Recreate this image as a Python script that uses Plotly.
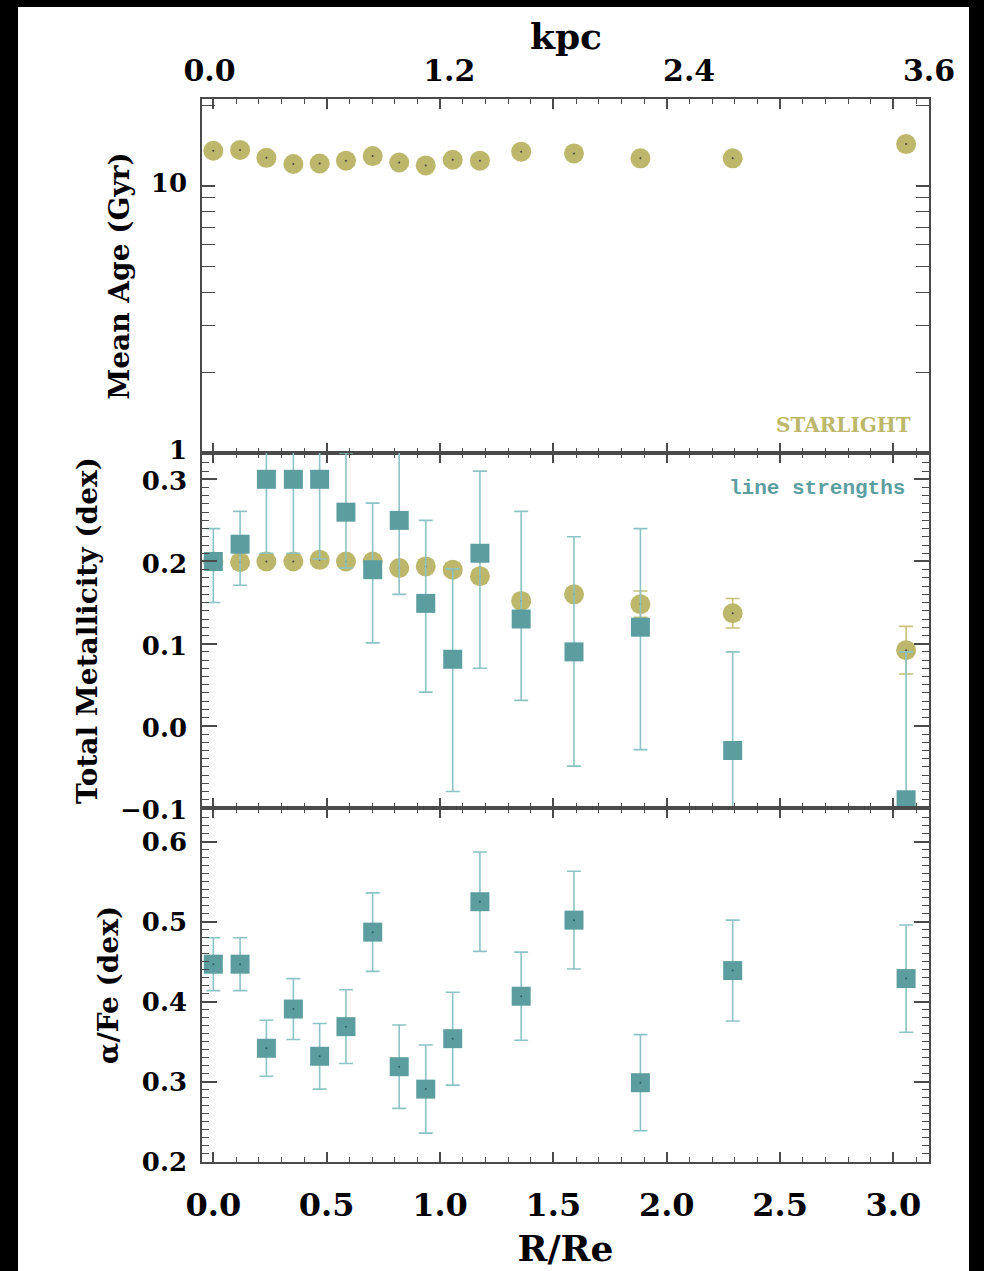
import plotly.graph_objects as go

# Radial bins (R/Re)
r_re = [0.0, 0.118, 0.234, 0.353, 0.469, 0.585, 0.703, 0.820, 0.937, 1.056,
        1.176, 1.358, 1.591, 1.884, 2.291, 3.056]

# STARLIGHT full-spectrum fitting
age_gyr = [13.5, 13.6, 12.7, 12.05, 12.1, 12.4, 12.9, 12.2, 11.9, 12.5,
           12.4, 13.4, 13.2, 12.65, 12.65, 14.3]
z_starlight = [0.200, 0.199, 0.200, 0.200, 0.202, 0.200, 0.200, 0.192, 0.194, 0.190,
               0.182, 0.152, 0.160, 0.148, 0.137, 0.092]
z_starlight_err = [0.008, 0.008, 0.008, 0.008, 0.008, 0.008, 0.008, 0.008, 0.008, 0.008,
                   0.008, 0.008, 0.008, 0.016, 0.018, 0.029]

# Line-strength indices
z_lines = [0.200, 0.221, 0.300, 0.300, 0.300, 0.260, 0.190, 0.250, 0.149, 0.081,
           0.210, 0.130, 0.090, 0.120, -0.030, -0.090]
z_lines_plus = [0.040, 0.040, 0.090, 0.090, 0.097, 0.072, 0.081, 0.090, 0.101, 0.110,
                0.100, 0.131, 0.140, 0.120, 0.120, 0.180]
z_lines_minus = [0.050, 0.050, 0.090, 0.090, 0.097, 0.068, 0.089, 0.090, 0.108, 0.161,
                 0.140, 0.099, 0.139, 0.149, 0.120, 0.180]
alpha_fe = [0.447, 0.447, 0.342, 0.391, 0.332, 0.369, 0.487, 0.319, 0.291, 0.354,
            0.525, 0.407, 0.502, 0.299, 0.439, 0.429]
alpha_fe_err = [0.033, 0.033, 0.035, 0.038, 0.041, 0.046, 0.049, 0.052, 0.055, 0.058,
                0.062, 0.055, 0.061, 0.060, 0.063, 0.067]

# Axis tick labels
rre_ticks = [0.0, 0.5, 1.0, 1.5, 2.0, 2.5, 3.0]
kpc_ticks = [0.0, 1.2, 2.4, 3.6]
age_ticks = [1, 10]
age_minor = [2, 3, 4, 5, 6, 7, 8, 9, 20]

OLIVE = "#bcb76a"
OLIVE_ERR = "#c5c07a"
TEAL = "#5c9e9f"
TEAL_ERR = "#8cc3c4"
AXIS = "#4a4a4a"

W, H = 984, 1271
x0, x1 = 202, 929            # plot area, px
rows = [(99, 453), (453, 808), (808, 1162)]


def py(v):
    return 1 - v / H


fig = go.Figure()

# Top panel: mean age
fig.add_trace(go.Scatter(x=r_re, y=age_gyr, mode="markers", xaxis="x", yaxis="y",
                         marker=dict(symbol="circle", size=20, color=OLIVE)))
fig.add_trace(go.Scatter(x=r_re, y=age_gyr, mode="markers", xaxis="x", yaxis="y",
                         marker=dict(size=2, color="#444")))
# physical-scale axis along the top (no visible marks)
fig.add_trace(go.Scatter(x=kpc_ticks, y=[None] * len(kpc_ticks), mode="markers",
                         xaxis="x4", yaxis="y", hoverinfo="skip"))

# Middle panel: total metallicity
fig.add_trace(go.Scatter(x=r_re, y=z_starlight, mode="markers", xaxis="x2", yaxis="y2",
                         error_y=dict(type="data", array=z_starlight_err, color=OLIVE_ERR,
                                      thickness=1.6, width=7),
                         marker=dict(symbol="circle", size=20, color=OLIVE)))
fig.add_trace(go.Scatter(x=r_re, y=z_starlight, mode="markers", xaxis="x2", yaxis="y2",
                         marker=dict(size=2, color="#444")))
fig.add_trace(go.Scatter(x=r_re, y=z_lines, mode="markers", xaxis="x2", yaxis="y2",
                         error_y=dict(type="data", symmetric=False, array=z_lines_plus,
                                      arrayminus=z_lines_minus, color=TEAL_ERR,
                                      thickness=1.6, width=7),
                         marker=dict(symbol="square", size=19, color=TEAL)))

# Bottom panel: alpha/Fe
fig.add_trace(go.Scatter(x=r_re, y=alpha_fe, mode="markers", xaxis="x3", yaxis="y3",
                         error_y=dict(type="data", array=alpha_fe_err, color=TEAL_ERR,
                                      thickness=1.6, width=7),
                         marker=dict(symbol="square", size=19, color=TEAL)))
fig.add_trace(go.Scatter(x=r_re, y=alpha_fe, mode="markers", xaxis="x3", yaxis="y3",
                         marker=dict(size=2, color="#2f5f60")))

label_font = dict(family="DejaVu Serif", size=26, color="black", weight="bold")
title_font = dict(family="DejaVu Serif", size=28, color="black", weight="bold")

xdom = [x0 / W, x1 / W]
common_x = dict(domain=xdom, range=[-0.05, 3.157], showline=True, linecolor=AXIS,
                linewidth=1.5, mirror="allticks", ticks="inside", ticklen=10,
                tickwidth=1.5, tickcolor=AXIS, tickvals=rre_ticks, showgrid=False,
                zeroline=False, automargin=False,
                minor=dict(dtick=0.1, tick0=0, ticks="inside", ticklen=5,
                           tickwidth=1.3, tickcolor=AXIS, showgrid=False))
common_y = dict(showline=True, linecolor=AXIS, linewidth=1.5, mirror="allticks",
                ticks="inside", ticklen=15, tickwidth=1.5, tickcolor=AXIS,
                showgrid=False, zeroline=False, tickfont=label_font,
                ticklabelstandoff=8, automargin=False)

fig.update_layout(
    width=W, height=H, autosize=False,
    margin=dict(l=0, r=0, t=0, b=0, pad=0, autoexpand=False),
    paper_bgcolor="white", plot_bgcolor="rgba(0,0,0,0)",
    showlegend=False,
    xaxis=dict(common_x, anchor="y", showticklabels=False, matches="x3"),
    xaxis2=dict(common_x, anchor="y2", showticklabels=False, matches="x3"),
    xaxis3=dict(common_x, anchor="y3", showticklabels=True,
                ticktext=[f"{v:.1f}" for v in rre_ticks],
                tickfont=dict(family="DejaVu Serif", size=32, color="black", weight="bold"),
                ticklabelstandoff=14,
                title=dict(text="R/Re", standoff=13,
                           font=dict(family="DejaVu Serif", size=36, color="black",
                                     weight="bold"))),
    xaxis4=dict(overlaying="x", anchor="y", side="top", range=[-0.0375, 3.6001],
                showline=False, ticks="", showgrid=False, zeroline=False,
                automargin=False,
                tickvals=kpc_ticks, ticktext=[f"{v:.1f}" for v in kpc_ticks],
                tickfont=dict(family="DejaVu Serif", size=30, color="black",
                              weight="bold"),
                ticklabelstandoff=11),
    yaxis=dict(common_y, anchor="x", domain=[py(rows[0][1]), py(rows[0][0])],
               type="log", range=[0, 1.324], tickvals=age_ticks,
               ticktext=[str(v) for v in age_ticks], ticklen=13, ticklabelshift=-3,
               minor=dict(tickvals=age_minor, ticks="inside", ticklen=6,
                          tickwidth=1.3, tickcolor=AXIS, showgrid=False),
               title=dict(text="Mean Age (Gyr)", standoff=13, font=title_font)),
    yaxis2=dict(common_y, anchor="x2", domain=[py(rows[1][1]), py(rows[1][0])],
                range=[-0.1, 0.332], tickvals=[-0.1, 0.0, 0.1, 0.2, 0.3],
                ticktext=["\u22120.1", "0.0", "0.1", "0.2", "0.3"], ticklabelshift=2,
                minor=dict(dtick=0.01, tick0=0, ticks="inside", ticklen=7,
                           tickwidth=1.3, tickcolor=AXIS, showgrid=False),
                title=dict(text="Total Metallicity (dex)", standoff=14, font=title_font)),
    yaxis3=dict(common_y, anchor="x3", domain=[py(rows[2][1]), py(rows[2][0])],
                range=[0.2, 0.642], tickvals=[0.2, 0.3, 0.4, 0.5, 0.6],
                ticktext=["0.2", "0.3", "0.4", "0.5", "0.6"],
                minor=dict(dtick=0.01, tick0=0, ticks="inside", ticklen=7,
                           tickwidth=1.3, tickcolor=AXIS, showgrid=False),
                title=dict(text="\u03b1/Fe (dex)", standoff=15, font=title_font)),
)

# Top axis unit label
fig.add_annotation(text="kpc", xref="paper", yref="paper",
                   x=(x0 + x1) / 2 / W, y=py(36), xanchor="center", yanchor="middle",
                   showarrow=False,
                   font=dict(family="DejaVu Serif", size=36, color="black", weight="bold"))

fig.add_annotation(text="STARLIGHT", xref="paper", yref="paper",
                   x=913 / W, y=py(425), xanchor="right", yanchor="middle",
                   showarrow=False,
                   font=dict(family="DejaVu Serif", size=20, color=OLIVE, weight="bold"))
fig.add_annotation(text="line strengths", xref="paper", yref="paper",
                   x=907 / W, y=py(488), xanchor="right", yanchor="middle",
                   showarrow=False,
                   font=dict(family="Liberation Mono", size=21, color=TEAL, weight="bold"))

# Dark frame along the page edges
for (ax0, ay0, ax1, ay1) in [(0, 0, 18, H), (0, 0, W, 7), (969, 0, W, H)]:
    fig.add_shape(type="rect", xref="paper", yref="paper", layer="above",
                  x0=ax0 / W, x1=ax1 / W, y0=py(ay1), y1=py(ay0),
                  fillcolor="black", line=dict(width=0))

fig.write_html("out.html")
